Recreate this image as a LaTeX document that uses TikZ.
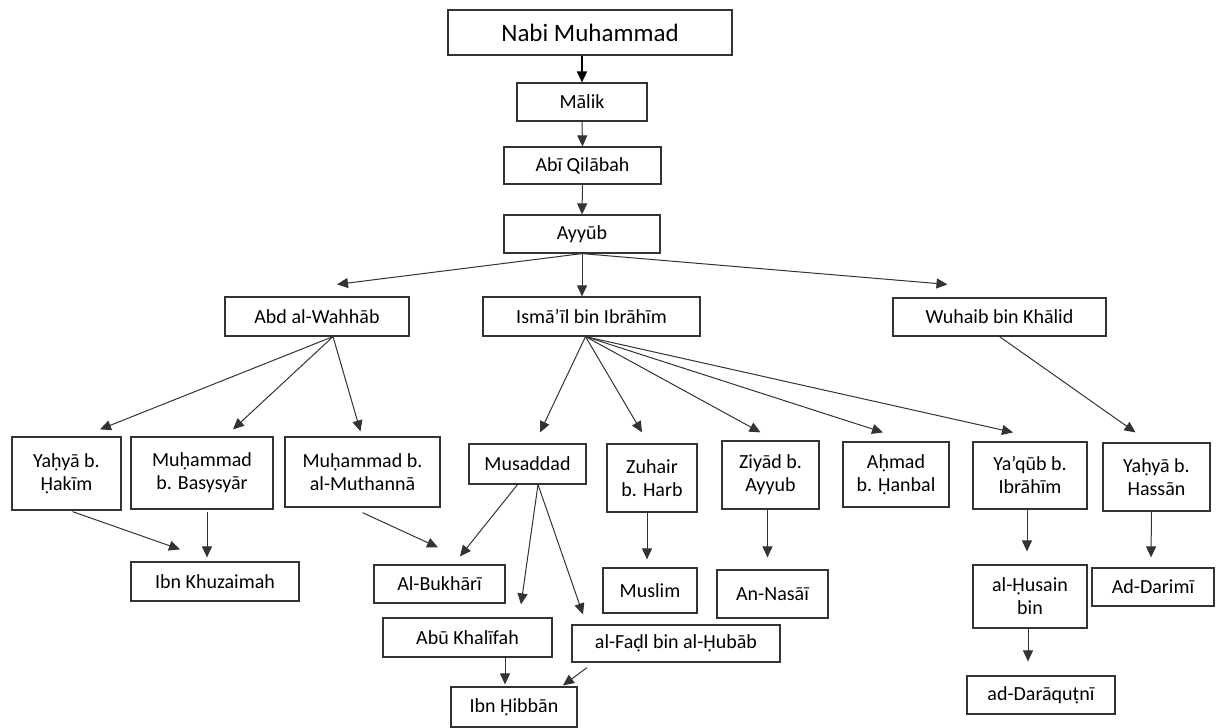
\documentclass[tikz,border=0pt]{standalone}
\usepackage{fontspec}
\setmainfont{Carlito}
\usetikzlibrary{arrows.meta,calc}
\definecolor{linegray}{HTML}{333333}

\begin{document}
\begin{tikzpicture}[x=1pt,y=-1pt,
    box/.style={draw=linegray, line width=1.2pt, inner sep=0pt, align=center,
      font=\fontsize{20}{23}\selectfont},
    arr/.style={draw=linegray, line width=1pt, -{Triangle[length=11pt,width=10pt]}}]
    \useasboundingbox (0,0) rectangle (1216,728);

    % top of the chain
    \node[box, minimum width=284, minimum height=45, font=\fontsize{25}{28}\selectfont] (nabi) at (590,32.5) {Nabi Muhammad};
    \node[box, minimum width=130, minimum height=38] (malik) at (582,102) {Mālik};
    \node[box, minimum width=157, minimum height=37] (abi) at (582.5,165.5) {Abī Qilābah};
    \node[box, minimum width=156, minimum height=38] (ayyub) at (582,234) {Ayyūb};

    \node[box, minimum width=184, minimum height=39] (wahhab) at (317,316.5) {Abd al-Wahhāb};
    \node[box, minimum width=217, minimum height=39] (ismail) at (591.5,316.5) {Ismā’īl bin Ibrāhīm};
    \node[box, minimum width=213, minimum height=38] (wuhaib) at (999.5,317) {Wuhaib bin Khālid};

    % third row
    \node[box, minimum width=109, minimum height=73] (yahyaH) at (66.5,473.5) {Yaḥyā b.\\Ḥakīm};
    \node[box, minimum width=142, minimum height=72] (basysyar) at (202,473) {Muḥammad\\b. Basysyār};
    \node[box, minimum width=155, minimum height=70] (muthanna) at (362.5,472) {Muḥammad b.\\al-Muthannā};
    \node[box, minimum width=117, minimum height=40] (musaddad) at (527.5,464) {Musaddad};
    \node[box, minimum width=90, minimum height=68] (zuhair) at (652,478) {Zuhair\\b. Harb};
    \node[box, minimum width=97, minimum height=68] (ziyad) at (770.5,475) {Ziyād b.\\Ayyub};
    \node[box, minimum width=106, minimum height=65] (ahmad) at (896,474.5) {Aḥmad\\b. Ḥanbal};
    \node[box, minimum width=114, minimum height=67] (yaqub) at (1030,475.5) {Ya’qūb b.\\Ibrāhīm};
    \node[box, minimum width=107, minimum height=68] (yahyaHs) at (1156.5,477) {Yaḥyā b.\\Hassān};

    % collectors
    \node[box, minimum width=168, minimum height=39] (khuzaimah) at (215,581.5) {Ibn Khuzaimah};
    \node[box, minimum width=131, minimum height=38] (bukhari) at (439.5,584) {Al-Bukhārī};
    \node[box, minimum width=169, minimum height=39] (abukhalifah) at (467.5,637.5) {Abū Khalīfah};
    \node[box, minimum width=208, minimum height=37] (fadl) at (676,643.5) {al-Faḍl bin al-Ḥubāb};
    \node[box, minimum width=126, minimum height=40] (hibban) at (514,707) {Ibn Ḥibbān};
    \node[box, minimum width=94, minimum height=45] (muslim) at (650,590.5) {Muslim};
    \node[box, minimum width=111, minimum height=48] (nasai) at (772.5,594) {An-Nasāī};
    \node[box, minimum width=114, minimum height=63] (husain) at (1030,596.5) {al-Ḥusain\\bin};
    \node[box, minimum width=122, minimum height=38] (darimi) at (1153,587) {Ad-Darimī};
    \node[box, minimum width=148, minimum height=38] (daraqutni) at (1041,695) {ad-Darāquṭnī};

    % arrows down the chain
    \draw[arr, draw=black, line width=1.8pt] (malik.north |- nabi.south) -- (malik.north);
    \draw[arr] (malik.south) -- (abi.north);
    \draw[arr] (abi.south) -- (ayyub.north);
    \draw[arr] (ayyub.south) -- ($(wahhab.north)+(20,-12)$);
    \draw[arr] (ayyub.south) -- (ismail.north -| ayyub.south);
    \draw[arr] (ayyub.south) -- ($(wuhaib.north)+(-52,-13)$);

    \draw[arr] ($(wahhab.south)+(16,0)$) -- ($(yahyaH.north)+(33.5,-7)$);
    \draw[arr] ($(wahhab.south)+(16,0)$) -- ($(basysyar.north)+(31,-7)$);
    \draw[arr] ($(wahhab.south)+(16,0)$) -- ($(muthanna.north)+(-2,-5)$);

    \draw[arr] ($(ismail.south)+(-6,0)$) -- ($(musaddad.north)+(12.5,-11)$);
    \draw[arr] ($(ismail.south)+(-6,0)$) -- ($(zuhair.north)+(-10,-11)$);
    \draw[arr] ($(ismail.south)+(-6,0)$) -- ($(ziyad.north)+(-10,-8)$);
    \draw[arr] ($(ismail.south)+(-6,0)$) -- ($(ahmad.north)+(-13,-9)$);
    \draw[arr] ($(ismail.south)+(-6,0)$) -- ($(yaqub.north)+(-17,-9)$);
    \draw[arr] (wuhaib.south) -- ($(yahyaHs.north)+(-21,-10)$);

    % to the collectors
    \draw[arr] ($(yahyaH.south)+(6,1)$) -- ($(khuzaimah.north)+(-35,-12)$);
    \draw[arr] ($(basysyar.south)+(5,2)$) -- ($(khuzaimah.north)+(-8,-4)$);
    \draw[arr] ($(muthanna.south)+(0,5)$) -- ($(bukhari.north)+(-1.5,-17)$);
    \draw[arr] ($(musaddad.south)+(-10,0)$) -- ($(bukhari.north)+(20.5,-8)$);
    \draw[arr] ($(musaddad.south)+(10.5,0)$) -- ($(abukhalifah.north)+(53.5,-13)$);
    \draw[arr] ($(musaddad.south)+(10.5,0)$) -- ($(fadl.north)+(-93,-10)$);
    \draw[arr] ($(zuhair.south)+(-5,0)$) -- ($(muslim.north)+(-3,-8)$);
    \draw[arr] ($(ziyad.south)+(-3,0)$) -- ($(nasai.north)+(-5,-12)$);
    \draw[arr] ($(yaqub.south)+(-3,0)$) -- ($(husain.north)+(-3,-13)$);
    \draw[arr] ($(husain.south)+(-2,0)$) -- ($(husain.south |- daraqutni.north)+(-2,-14)$);
    \draw[arr] ($(yahyaHs.south)+(-5,0)$) -- ($(darimi.north)+(-2,-10)$);
    \draw[arr] ($(abukhalifah.south)+(37.5,0)$) -- ($(hibban.north)+(-9,-2)$);
    \draw[arr] ($(fadl.south)+(-89,5)$) -- ($(hibban.north)+(49,-1)$);
\end{tikzpicture}
\end{document}
